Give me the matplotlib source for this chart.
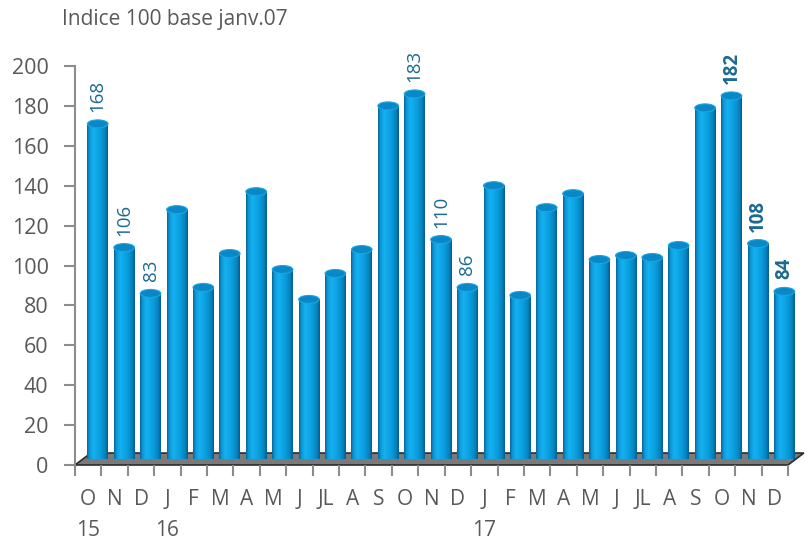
import matplotlib.pyplot as plt
import numpy as np
from matplotlib.colors import LinearSegmentedColormap
from matplotlib.patches import Ellipse, Polygon, Rectangle

months = ["O", "N", "D", "J", "F", "M", "A", "M", "J", "JL", "A", "S",
          "O", "N", "D", "J", "F", "M", "A", "M", "J", "JL", "A", "S",
          "O", "N", "D"]
years = {0: "15", 3: "16", 15: "17"}
values = [168, 106, 83, 125, 86, 103, 134, 95, 80, 93, 105, 177,
          183, 110, 86, 137, 82, 126, 133, 100, 102, 101, 107, 176,
          182, 108, 84]
labelled = [0, 1, 2, 12, 13, 14, 24, 25, 26]
bold_labels = [24, 25, 26]

plt.rcParams['font.family'] = ['Open Sans', 'DejaVu Sans']
gray = '#595959'
label_col = '#1a6a92'

fig = plt.figure(figsize=(8.05, 5.41), dpi=100)
ax = fig.add_axes([75 / 805, 1 - 465 / 541, 713 / 805, 399 / 541])
n = len(values)

# 3d-ish offsets
dx, dy = 0.36, 3.0
bw = 0.78

# floor
floor = Polygon([(-0.5, 0), (n - 0.5, 0), (n - 0.5 + 0.6, 6), (-0.5 + 0.6, 6)],
                closed=True, facecolor='#7a7a7a', edgecolor='#2b2b2b', lw=1.2,
                clip_on=False, zorder=1)
ax.add_patch(floor)

cmap = LinearSegmentedColormap.from_list('cyl', [
    (0.0, '#0b6599'), (0.12, '#0a9ad8'), (0.3, '#16b0f0'),
    (0.6, '#0aa0e0'), (0.85, '#0786c2'), (1.0, '#055e8e')])
grad = np.linspace(0, 1, 64).reshape(1, -1)

for i, v in enumerate(values):
    x0 = i + dx - bw / 2
    body = Rectangle((x0, dy), bw, v, facecolor='none', edgecolor='none')
    ax.add_patch(body)
    im = ax.imshow(grad, cmap=cmap, aspect='auto', extent=(x0, x0 + bw, dy, dy + v),
                   zorder=2, interpolation='bilinear')
    im.set_clip_path(body)
    im.set_clip_box(fig.bbox)
    cap = Ellipse((i + dx, dy + v), bw, 4.0, facecolor='#0a87c6',
                  edgecolor='#1aa6e0', lw=0.8, zorder=3, clip_on=False)
    ax.add_patch(cap)
    if i in labelled:
        ax.text(i + dx, dy + v + 6, str(v), rotation=90, ha='center', va='bottom',
                fontsize=13.5, color=label_col,
                fontweight='bold' if i in bold_labels else 'normal', zorder=4)

ax.set_aspect('auto')
ax.set_xlim(-0.5, n - 0.5)
ax.set_ylim(0, 200)

for s in ['top', 'right', 'bottom']:
    ax.spines[s].set_visible(False)
ax.spines['left'].set_color('#8c8c8c')
ax.spines['left'].set_linewidth(1.5)

ax.set_yticks(np.arange(0, 201, 20))
ax.tick_params(axis='y', direction='out', length=8, width=1.5, color='#8c8c8c',
               labelsize=15.5, labelcolor=gray, pad=11)

# category boundary ticks
ax.set_xticks(np.arange(-0.5, n, 1.0))
ax.set_xticklabels([])
ax.tick_params(axis='x', direction='out', length=8, width=1.5, color='#8c8c8c')
for i, m in enumerate(months):
    ax.text(i, -17.5, m, ha='center', va='center', fontsize=15, color=gray)
for i, yr in years.items():
    ax.text(i, -33, yr, ha='center', va='center', fontsize=15, color=gray)

fig.text(62 / 805, 1 - 20 / 541, "Indice 100 base janv.07", ha='left', va='center',
         fontsize=15, color=gray)

fig.savefig('out.png', dpi=100)
